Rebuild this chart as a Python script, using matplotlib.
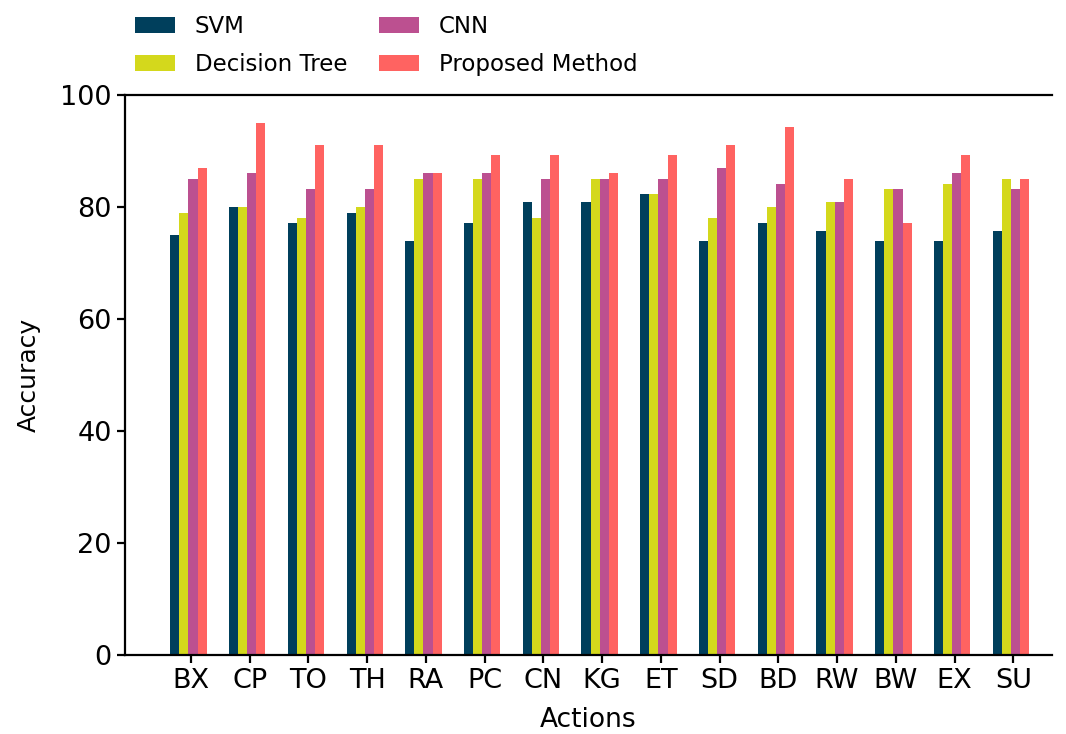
import numpy as np
import matplotlib.pyplot as plt

actions = ["BX", "CP", "TO", "TH", "RA", "PC", "CN", "KG", "ET", "SD",
           "BD", "RW", "BW", "EX", "SU"]

svm = [75, 80, 77.2, 79, 74, 77.2, 80.9, 80.9, 82.3, 74, 77.2, 75.8, 74, 74, 75.8]
decision_tree = [79, 80, 78.1, 80, 85, 85, 78.1, 85, 82.3, 78.1, 80, 80.9, 83.2, 84.1, 85]
cnn = [85, 86, 83.2, 83.2, 86, 86, 85, 85, 85, 87, 84.1, 80.9, 83.2, 86, 83.2]
proposed = [87, 95, 91, 91, 86, 89.2, 89.2, 86, 89.2, 91, 94.2, 85, 77.2, 89.2, 85]

bar_width = 0.155
r = np.arange(len(actions))

fig = plt.figure(figsize=(10.66, 7.34), dpi=100)
ax = fig.add_axes([0.1173, 0.1076, 0.8696, 0.763])

ax.bar(r, svm, width=bar_width, align="edge", color="#003f5c", label="SVM")
ax.bar(r + bar_width, decision_tree, width=bar_width, align="edge",
       color="#d4d81c", label="Decision Tree")
ax.bar(r + 2 * bar_width, cnn, width=bar_width, align="edge",
       color="#bc5090", label="CNN")
ax.bar(r + 3 * bar_width, proposed, width=bar_width, align="edge",
       color="#ff6361", label="Proposed Method")

ax.set_xticks(r + 0.35)
ax.set_xticklabels(actions)
ax.set_xlim(-0.77, 15.01)
ax.set_ylim(0, 100)
ax.set_yticks([0, 20, 40, 60, 80, 100])

ax.spines["right"].set_visible(False)
for s in ["top", "bottom", "left"]:
    ax.spines[s].set_linewidth(1.6)
ax.tick_params(axis="both", labelsize=19.5, width=1.6, length=6)

ax.set_xlabel("Actions", fontsize=19, labelpad=9)
ax.set_ylabel("Accuracy", fontsize=18, labelpad=14)

fig.legend(loc="upper left", bbox_to_anchor=(0.1266, 0.98), ncol=2,
           frameon=False, fontsize=16.5, handlelength=1.75, handleheight=0.7,
           handletextpad=0.85, columnspacing=1.4, labelspacing=0.68,
           borderpad=0, borderaxespad=0)

fig.savefig("out.png", dpi=100)
